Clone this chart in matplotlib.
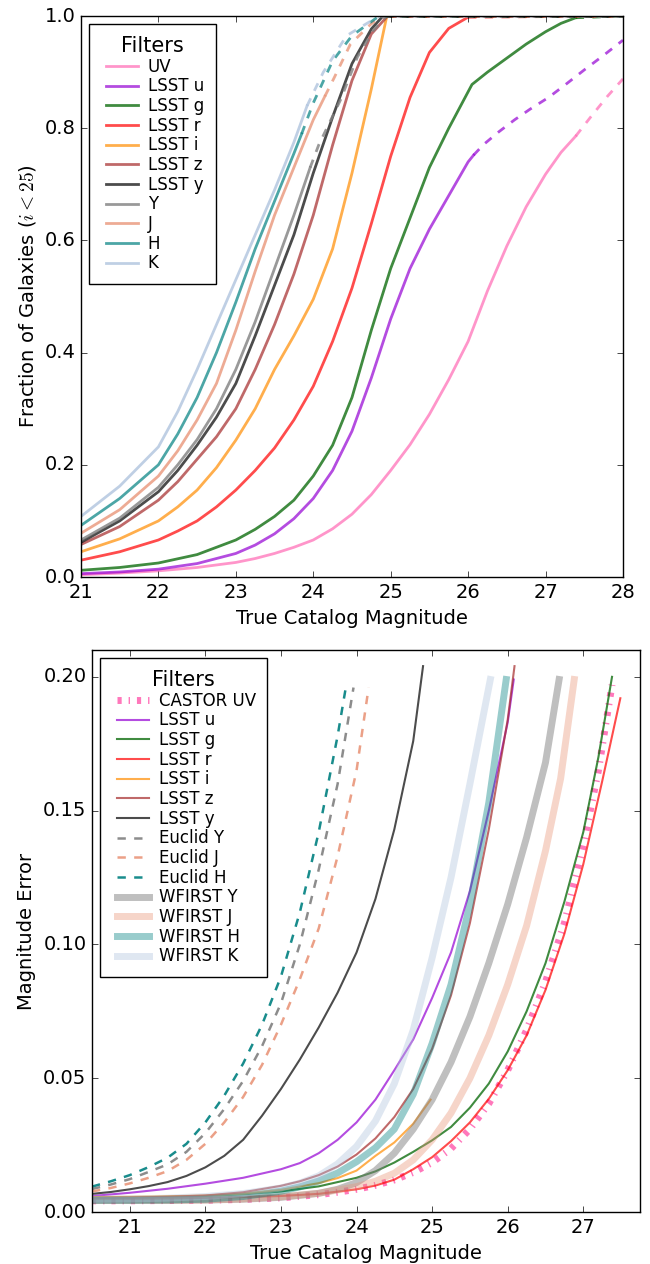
import numpy as np
import matplotlib
matplotlib.use('Agg')
import matplotlib.pyplot as plt

plt.style.use('classic')
plt.rcParams['figure.facecolor'] = 'white'
plt.rcParams['savefig.facecolor'] = 'white'
plt.rcParams['font.family'] = ['DejaVu Sans']
plt.rcParams['mathtext.fontset'] = 'cm'

# ---- top panel: cumulative fraction of galaxies (solid up to the limit, dashed beyond)
uv_mag = [21.0, 21.5, 22.0, 22.5, 23.0, 23.25, 23.5, 23.75, 24.0, 24.25, 24.5, 24.75, 25.0, 25.25, 25.5,
          25.75, 26.0, 26.25, 26.5, 26.75, 27.0, 27.2, 27.39, 27.6, 27.8, 28.0]
uv_frac = [0.004, 0.007, 0.011, 0.017, 0.026, 0.033, 0.042, 0.053, 0.066, 0.086, 0.112, 0.147, 0.19, 0.236, 0.29,
           0.352, 0.42, 0.51, 0.59, 0.66, 0.718, 0.757, 0.786, 0.823, 0.857, 0.888]
u_mag = [21.0, 21.5, 22.0, 22.5, 23.0, 23.25, 23.5, 23.75, 24.0, 24.25, 24.5, 24.75, 25.0, 25.25, 25.5, 25.75,
         26.0, 26.07, 26.2, 26.4, 26.6, 26.8, 27.04, 27.25, 27.5, 27.75, 28.0]
u_frac = [0.006, 0.009, 0.014, 0.024, 0.042, 0.057, 0.077, 0.104, 0.14, 0.19, 0.26, 0.355, 0.46, 0.55, 0.62, 0.68,
          0.74, 0.752, 0.771, 0.794, 0.815, 0.834, 0.855, 0.877, 0.904, 0.93, 0.957]
g_mag = [21.0, 21.5, 22.0, 22.5, 23.0, 23.25, 23.5, 23.75, 24.0, 24.25, 24.5, 24.75, 25.0, 25.25, 25.5, 25.75,
         26.0, 26.05, 26.25, 26.5, 26.75, 27.0, 27.2, 27.39, 28.0]
g_frac = [0.012, 0.017, 0.025, 0.04, 0.066, 0.085, 0.108, 0.137, 0.18, 0.235, 0.32, 0.44, 0.55, 0.64, 0.73, 0.80,
          0.865, 0.878, 0.90, 0.925, 0.95, 0.972, 0.987, 0.997, 1.0]
r_mag = [21.0, 21.5, 22.0, 22.25, 22.5, 22.75, 23.0, 23.25, 23.5, 23.75, 24.0, 24.25, 24.5, 24.75, 25.0, 25.25,
         25.5, 25.75, 26.0, 28.0]
r_frac = [0.03, 0.045, 0.066, 0.082, 0.10, 0.125, 0.155, 0.19, 0.23, 0.28, 0.34, 0.42, 0.515, 0.63, 0.75, 0.855,
          0.935, 0.978, 0.998, 1.0]
i_mag = [21.0, 21.5, 22.0, 22.25, 22.5, 22.75, 23.0, 23.25, 23.5, 23.75, 24.0, 24.25, 24.5, 24.75, 24.95, 28.0]
i_frac = [0.045, 0.068, 0.10, 0.125, 0.155, 0.195, 0.244, 0.30, 0.37, 0.43, 0.495, 0.585, 0.72, 0.87, 1.0, 1.0]
z_mag = [21.0, 21.5, 22.0, 22.25, 22.5, 22.75, 23.0, 23.25, 23.5, 23.75, 24.0, 24.25, 24.5, 24.75, 24.96, 28.0]
z_frac = [0.058, 0.09, 0.137, 0.17, 0.21, 0.25, 0.30, 0.37, 0.45, 0.54, 0.645, 0.77, 0.885, 0.968, 1.0, 1.0]
y_mag = [21.0, 21.5, 22.0, 22.25, 22.5, 22.75, 23.0, 23.25, 23.5, 23.75, 24.0, 24.25, 24.5, 24.75, 24.9, 28.0]
y_frac = [0.062, 0.10, 0.152, 0.19, 0.235, 0.285, 0.345, 0.43, 0.52, 0.61, 0.72, 0.82, 0.915, 0.977, 1.0, 1.0]
Y_mag = [21.0, 21.5, 22.0, 22.25, 22.5, 22.75, 23.0, 23.25, 23.5, 23.75, 23.96, 24.07, 24.35, 24.57, 24.78,
         24.95, 28.0]
Y_frac = [0.066, 0.105, 0.16, 0.20, 0.245, 0.30, 0.37, 0.455, 0.55, 0.645, 0.73, 0.77, 0.85, 0.927, 0.975,
          1.0, 1.0]
J_mag = [21.0, 21.5, 22.0, 22.25, 22.5, 22.75, 23.0, 23.25, 23.5, 23.75, 24.0, 24.15, 24.27, 24.48, 24.74,
         24.88, 28.0]
J_frac = [0.078, 0.12, 0.18, 0.225, 0.28, 0.345, 0.44, 0.545, 0.645, 0.73, 0.815, 0.857, 0.89, 0.95, 0.985,
          1.0, 1.0]
H_mag = [21.0, 21.5, 22.0, 22.25, 22.5, 22.75, 23.0, 23.25, 23.5, 23.75, 23.85, 24.0, 24.25, 24.5, 24.85, 28.0]
H_frac = [0.092, 0.14, 0.20, 0.255, 0.32, 0.40, 0.49, 0.585, 0.67, 0.755, 0.79, 0.845, 0.92, 0.965, 1.0, 1.0]
K_mag = [21.0, 21.5, 22.0, 22.25, 22.5, 22.75, 23.0, 23.25, 23.5, 23.75, 23.92, 24.13, 24.43, 24.85, 28.0]
K_frac = [0.108, 0.162, 0.232, 0.295, 0.37, 0.45, 0.53, 0.61, 0.69, 0.775, 0.84, 0.90, 0.965, 1.0, 1.0]

top_labels = ['UV', 'LSST u', 'LSST g', 'LSST r', 'LSST i', 'LSST z', 'LSST y', 'Y', 'J', 'H', 'K']
top_limits = [27.39, 26.07, 27.39, 26.0, 24.95, 24.96, 24.9, 23.96, 24.15, 23.85, 23.92]

# ---- bottom panel: magnitude error vs magnitude
castor_mag = [20.5, 21.0, 21.5, 22.0, 22.5, 23.0, 23.5, 23.75, 24.0, 24.25, 24.5, 24.75, 25.0, 25.25, 25.5,
              25.75, 26.0, 26.25, 26.5, 26.75, 27.0, 27.2, 27.38]
castor_err = [0.0042, 0.0042, 0.0043, 0.0044, 0.0047, 0.0053, 0.0065, 0.0074, 0.0085, 0.0100, 0.012, 0.0148,
              0.0185, 0.0237, 0.031, 0.0405, 0.053, 0.068, 0.086, 0.108, 0.137, 0.165, 0.197]
lu_mag = [20.5, 21.0, 21.5, 22.0, 22.5, 23.0, 23.25, 23.5, 23.75, 24.0, 24.25, 24.5, 24.75, 25.0, 25.25, 25.5,
          25.75, 26.0, 26.08]
lu_err = [0.006, 0.0072, 0.0087, 0.0106, 0.0128, 0.016, 0.0183, 0.022, 0.027, 0.0335, 0.042, 0.053, 0.0645,
          0.080, 0.097, 0.120, 0.150, 0.183, 0.199]
lg_mag = [20.5, 21.0, 21.5, 22.0, 22.5, 23.0, 23.5, 24.0, 24.25, 24.5, 24.75, 25.0, 25.25, 25.5, 25.75, 26.0,
          26.25, 26.5, 26.75, 27.0, 27.2, 27.38]
lg_err = [0.0055, 0.0055, 0.0057, 0.006, 0.0066, 0.0077, 0.0096, 0.0128, 0.0152, 0.0185, 0.0225, 0.0268, 0.0318,
          0.039, 0.048, 0.060, 0.075, 0.093, 0.116, 0.142, 0.170, 0.200]
lr_mag = [20.5, 21.0, 21.5, 22.0, 22.5, 23.0, 23.5, 24.0, 24.25, 24.5, 24.75, 25.0, 25.25, 25.5, 25.75, 26.0,
          26.25, 26.5, 26.75, 27.0, 27.25, 27.49]
lr_err = [0.005, 0.005, 0.0051, 0.0053, 0.0056, 0.006, 0.0068, 0.0085, 0.0099, 0.0121, 0.016, 0.0205, 0.0265,
          0.0335, 0.0423, 0.053, 0.066, 0.083, 0.104, 0.130, 0.161, 0.192]
li_mag = [20.5, 21.0, 21.5, 22.0, 22.5, 23.0, 23.5, 23.75, 24.0, 24.25, 24.5, 24.75, 24.98]
li_err = [0.0056, 0.0057, 0.0059, 0.0062, 0.0069, 0.0083, 0.0108, 0.0127, 0.0155, 0.021, 0.026, 0.033, 0.042]
lz_mag = [20.5, 21.0, 21.5, 22.0, 22.5, 23.0, 23.25, 23.5, 23.75, 24.0, 24.25, 24.5, 24.75, 25.0, 25.25, 25.5,
          25.75, 26.0, 26.09]
lz_err = [0.0052, 0.0054, 0.0057, 0.0062, 0.0074, 0.0098, 0.0115, 0.0138, 0.017, 0.0215, 0.0275, 0.0355, 0.046,
          0.061, 0.081, 0.108, 0.143, 0.184, 0.204]
ly_mag = [20.5, 20.75, 21.0, 21.25, 21.5, 21.75, 22.0, 22.25, 22.5, 22.75, 23.0, 23.25, 23.5, 23.75, 24.0, 24.25,
          24.5, 24.75, 24.88]
ly_err = [0.0068, 0.0075, 0.0085, 0.0097, 0.0112, 0.0135, 0.0167, 0.021, 0.027, 0.036, 0.046, 0.057, 0.069, 0.082,
          0.097, 0.117, 0.143, 0.176, 0.204]
eY_mag = [20.5, 20.75, 21.0, 21.25, 21.5, 21.75, 22.0, 22.25, 22.5, 22.75, 23.0, 23.25, 23.5, 23.75, 23.96]
eY_err = [0.0086, 0.0103, 0.0123, 0.015, 0.0178, 0.0225, 0.0295, 0.0385, 0.049, 0.062, 0.078, 0.10, 0.128, 0.16,
          0.196]
eJ_mag = [20.5, 20.75, 21.0, 21.25, 21.5, 21.75, 22.0, 22.25, 22.5, 22.75, 23.0, 23.25, 23.5, 23.75, 24.0, 24.16]
eJ_err = [0.0077, 0.009, 0.0107, 0.0128, 0.0153, 0.0195, 0.0255, 0.0335, 0.043, 0.055, 0.070, 0.087, 0.106, 0.133,
          0.165, 0.196]
eH_mag = [20.5, 20.75, 21.0, 21.25, 21.5, 21.75, 22.0, 22.25, 22.5, 22.75, 23.0, 23.25, 23.5, 23.75, 23.87]
eH_err = [0.0095, 0.0115, 0.0138, 0.0168, 0.0203, 0.0255, 0.0335, 0.0435, 0.0555, 0.070, 0.088, 0.112, 0.142,
          0.178, 0.198]
wY_mag = [20.5, 21.0, 21.5, 22.0, 22.5, 23.0, 23.5, 23.75, 24.0, 24.25, 24.5, 24.75, 25.0, 25.25, 25.5, 25.75,
          26.0, 26.25, 26.5, 26.68]
wY_err = [0.0044, 0.0044, 0.0044, 0.0045, 0.0048, 0.0055, 0.007, 0.0085, 0.011, 0.0155, 0.022, 0.031, 0.042,
          0.056, 0.073, 0.093, 0.115, 0.140, 0.168, 0.199]
wJ_mag = [20.5, 21.0, 21.5, 22.0, 22.5, 23.0, 23.5, 24.0, 24.25, 24.5, 24.75, 25.0, 25.25, 25.5, 25.75, 26.0,
          26.25, 26.5, 26.7, 26.88]
wJ_err = [0.0044, 0.0044, 0.0044, 0.0045, 0.0049, 0.0057, 0.007, 0.0095, 0.0115, 0.0145, 0.0195, 0.027, 0.037,
          0.050, 0.066, 0.085, 0.107, 0.135, 0.162, 0.199]
wH_mag = [20.5, 21.0, 21.5, 22.0, 22.5, 23.0, 23.25, 23.5, 23.75, 24.0, 24.25, 24.5, 24.75, 25.0, 25.25, 25.5,
          25.75, 25.98]
wH_err = [0.0044, 0.0044, 0.0045, 0.0048, 0.0058, 0.0078, 0.0094, 0.0116, 0.0146, 0.0188, 0.024, 0.031, 0.044,
          0.063, 0.085, 0.115, 0.153, 0.199]
wK_mag = [20.5, 21.0, 21.5, 22.0, 22.5, 23.0, 23.25, 23.5, 23.75, 24.0, 24.25, 24.5, 24.75, 25.0, 25.25, 25.5,
          25.77]
wK_err = [0.0048, 0.0049, 0.0052, 0.0058, 0.0069, 0.009, 0.0108, 0.0135, 0.018, 0.0245, 0.034, 0.048, 0.068,
          0.095, 0.125, 0.16, 0.199]

bottom_labels = ['CASTOR UV', 'LSST u', 'LSST g', 'LSST r', 'LSST i', 'LSST z', 'LSST y',
                 'Euclid Y', 'Euclid J', 'Euclid H', 'WFIRST Y', 'WFIRST J', 'WFIRST H', 'WFIRST K']

# colours (colour, alpha)
c_uv = ('hotpink', 0.7)
c_u = ('darkviolet', 0.7)
c_g = ('darkgreen', 0.75)
c_r = ('red', 0.7)
c_i = ('darkorange', 0.7)
c_z = ('brown', 0.7)
c_y = ('black', 0.7)
c_Y = ('gray', 0.8)
c_J = ('darksalmon', 0.8)
c_H = ('teal', 0.7)
c_K = ('lightsteelblue', 0.8)

fig = plt.figure(figsize=(6.5, 12.64), dpi=100)
ax1 = fig.add_axes([0.1246, 0.5435, 0.8338, 0.4438])
ax2 = fig.add_axes([0.1415, 0.0411, 0.8431, 0.4446])

top_series = [(uv_mag, uv_frac, c_uv), (u_mag, u_frac, c_u), (g_mag, g_frac, c_g),
              (r_mag, r_frac, c_r), (i_mag, i_frac, c_i), (z_mag, z_frac, c_z),
              (y_mag, y_frac, c_y), (Y_mag, Y_frac, c_Y), (J_mag, J_frac, c_J),
              (H_mag, H_frac, c_H), (K_mag, K_frac, c_K)]

for (mag, frac, (col, al)), lab, lim in zip(top_series, top_labels, top_limits):
    mag = np.array(mag)
    frac = np.array(frac)
    solid = mag <= lim + 1e-6
    dashed = mag >= lim - 1e-6
    ax1.plot(mag[solid], frac[solid], '-', color=col, alpha=al, lw=2, label=lab)
    ax1.plot(mag[dashed], frac[dashed], '--', color=col, alpha=al, lw=2)

ax1.set_xlim(21, 28)
ax1.set_ylim(0, 1)
ax1.set_xlabel('True Catalog Magnitude', fontsize=14)
ax1.set_ylabel('Fraction of Galaxies ($i < 25$)', fontsize=14)
ax1.tick_params(labelsize=14)
leg1 = ax1.legend(loc='upper left', fontsize=12, title='Filters', handlelength=2.5,
                  handletextpad=0.3, labelspacing=0.1, borderpad=0.7, borderaxespad=0.5)
leg1.get_title().set_fontsize(15)

# bottom panel
ax2.plot(castor_mag, castor_err, '-.', color='hotpink', alpha=0.9, lw=5, label='CASTOR UV')
lsst = [(lu_mag, lu_err, c_u), (lg_mag, lg_err, c_g), (lr_mag, lr_err, c_r), (li_mag, li_err, c_i),
        (lz_mag, lz_err, c_z), (ly_mag, ly_err, c_y)]
for (mag, err, (col, al)), lab in zip(lsst, bottom_labels[1:7]):
    ax2.plot(mag, err, '-', color=col, alpha=al, lw=1.5, label=lab)

euclid = [(eY_mag, eY_err, 'gray'), (eJ_mag, eJ_err, 'darksalmon'), (eH_mag, eH_err, 'teal')]
for (mag, err, col), lab in zip(euclid, bottom_labels[7:10]):
    ax2.plot(mag, err, '--', color=col, alpha=0.9, lw=1.8, label=lab)

wfirst = [(wY_mag, wY_err, 'gray', 0.5), (wJ_mag, wJ_err, 'darksalmon', 0.4),
          (wH_mag, wH_err, 'teal', 0.4), (wK_mag, wK_err, 'lightsteelblue', 0.4)]
for (mag, err, col, al), lab in zip(wfirst, bottom_labels[10:]):
    ax2.plot(mag, err, '-', color=col, alpha=al, lw=5, label=lab)

ax2.set_xlim(20.5, 27.75)
ax2.set_ylim(0, 0.21)
ax2.set_yticks([0.0, 0.05, 0.10, 0.15, 0.20])
ax2.set_xticks([21, 22, 23, 24, 25, 26, 27])
ax2.set_xlabel('True Catalog Magnitude', fontsize=14)
ax2.set_ylabel('Magnitude Error', fontsize=14)
ax2.tick_params(labelsize=14)
leg2 = ax2.legend(loc='upper left', fontsize=12, title='Filters', handlelength=2.5,
                  handletextpad=0.3, labelspacing=0.1, borderpad=0.7, borderaxespad=0.5)
leg2.get_title().set_fontsize(15)

fig.savefig('out.png', dpi=100)
